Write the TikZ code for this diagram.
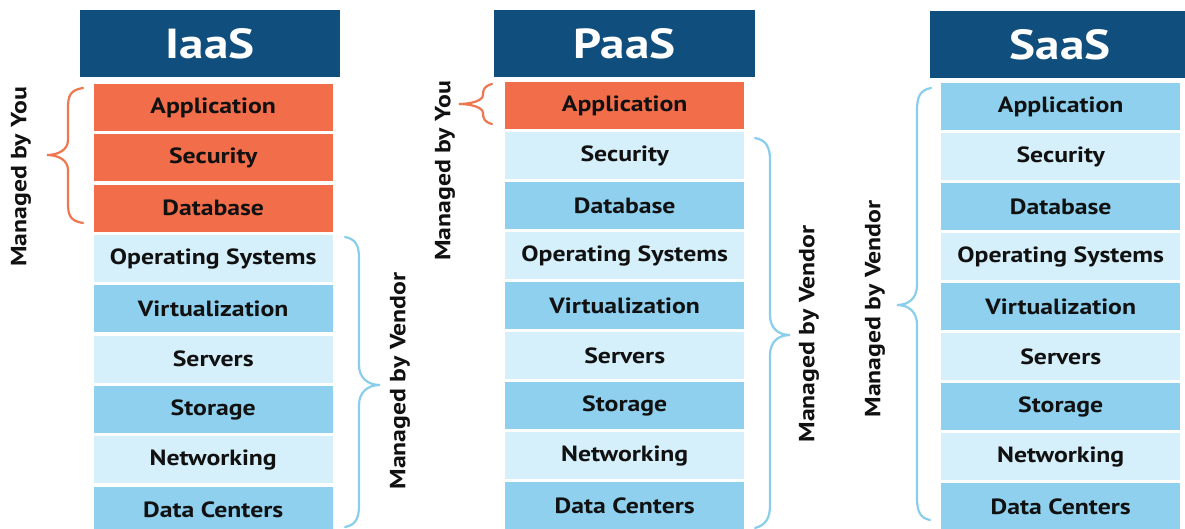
\documentclass[tikz,border=0pt]{standalone}
\usepackage{fontspec}
\setmainfont{PT Sans}[FakeStretch=1.17]
\definecolor{hdr}{HTML}{104E7D}
\definecolor{org}{HTML}{F26E4A}
\definecolor{mid}{HTML}{8ED0EE}
\definecolor{lig}{HTML}{D6F0FB}
\definecolor{bro}{HTML}{F0764F}
\definecolor{brb}{HTML}{89CEEB}
\definecolor{txt}{HTML}{111111}
\begin{document}
\begin{tikzpicture}[x=1pt,y=-1pt,
  hdrbox/.style={anchor=north west,fill=hdr,text=white,inner sep=0pt,minimum height=67pt,font=\fontsize{42}{42}\selectfont\bfseries},
  rowbox/.style={anchor=north west,inner sep=0pt,minimum width=239pt,minimum height=47pt,text=txt,font=\fontsize{22}{22}\selectfont\bfseries},
  side/.style={rotate=90,text=txt,inner sep=0pt,font=\fontsize{22}{22}\selectfont\bfseries},
  bro/.style={draw=bro,line width=2.2pt,line cap=round},
  brb/.style={draw=brb,line width=2.2pt,line cap=round}]
\useasboundingbox (0,0) rectangle (1185,529);
\clip (0,0) rectangle (1185,529);
\fill[white] (0,0) rectangle (1185,529);
% headers
\node[hdrbox,minimum width=260pt] (hi) at (80,10) {IaaS};
\node[hdrbox,minimum width=261pt] (hp) at (494,10) {PaaS};
\node[hdrbox,minimum width=260pt] (hs) at (930,11) {SaaS};
% IaaS rows
\foreach \t/\c [count=\i] in {Application/org,Security/org,Database/org,Operating Systems/lig,Virtualization/mid,Servers/lig,Storage/mid,Networking/lig,Data Centers/mid}
  \node[rowbox,fill=\c] (i\i) at (93.5,{84+(\i-1)*50.3}) {\t};
% PaaS rows
\foreach \t/\c [count=\i] in {Application/org,Security/lig,Database/mid,Operating Systems/lig,Virtualization/mid,Servers/lig,Storage/mid,Networking/lig,Data Centers/mid}
  \node[rowbox,fill=\c] (p\i) at (505,{82+(\i-1)*50}) {\t};
% SaaS rows
\foreach \t/\c [count=\i] in {Application/mid,Security/lig,Database/mid,Operating Systems/lig,Virtualization/mid,Servers/lig,Storage/mid,Networking/lig,Data Centers/mid}
  \node[rowbox,fill=\c] (s\i) at (941,{83+(\i-1)*50}) {\t};
% braces
\draw[bro] (83,88) .. controls (70,90) and (68,96) .. (68,108) -- (68,140) .. controls (68,150) and (58,155) .. (47,155) .. controls (58,155) and (68,160) .. (68,170) -- (68,203) .. controls (68,215) and (70,221) .. (83,223);
\draw[brb] (345,237) .. controls (356,239) and (359,246) .. (359,258) -- (359,365) .. controls (359,378) and (368,385) .. (380,385) .. controls (368,385) and (359,392) .. (359,405) -- (359,505) .. controls (359,518) and (356,525) .. (345,527);
\draw[bro] (492,84) .. controls (484,86) and (483,90) .. (483,95) .. controls (483,101) and (470,104) .. (459,104) .. controls (470,104) and (483,107) .. (483,113) .. controls (483,118) and (484,122) .. (492,124);
\draw[brb] (755,138) .. controls (766,140) and (770,147) .. (770,160) -- (770,315) .. controls (770,328) and (778,335) .. (790,335) .. controls (778,335) and (770,342) .. (770,355) -- (770,505) .. controls (770,518) and (766,525) .. (755,528);
\draw[brb] (931,88) .. controls (920,90) and (917,97) .. (917,110) -- (917,285) .. controls (917,298) and (909,305) .. (897,305) .. controls (909,305) and (917,312) .. (917,325) -- (917,498) .. controls (917,511) and (920,518) .. (930,520);
% side labels
\node[side] (iyou) at (21,177) {Managed by You};
\node[side] (iven) at (400,381) {Managed by Vendor};
\node[side] (pyou) at (445,171) {Managed by You};
\node[side] (pven) at (809,334) {Managed by Vendor};
\node[side] (sven) at (875,309) {Managed by Vendor};
\end{tikzpicture}
\end{document}
